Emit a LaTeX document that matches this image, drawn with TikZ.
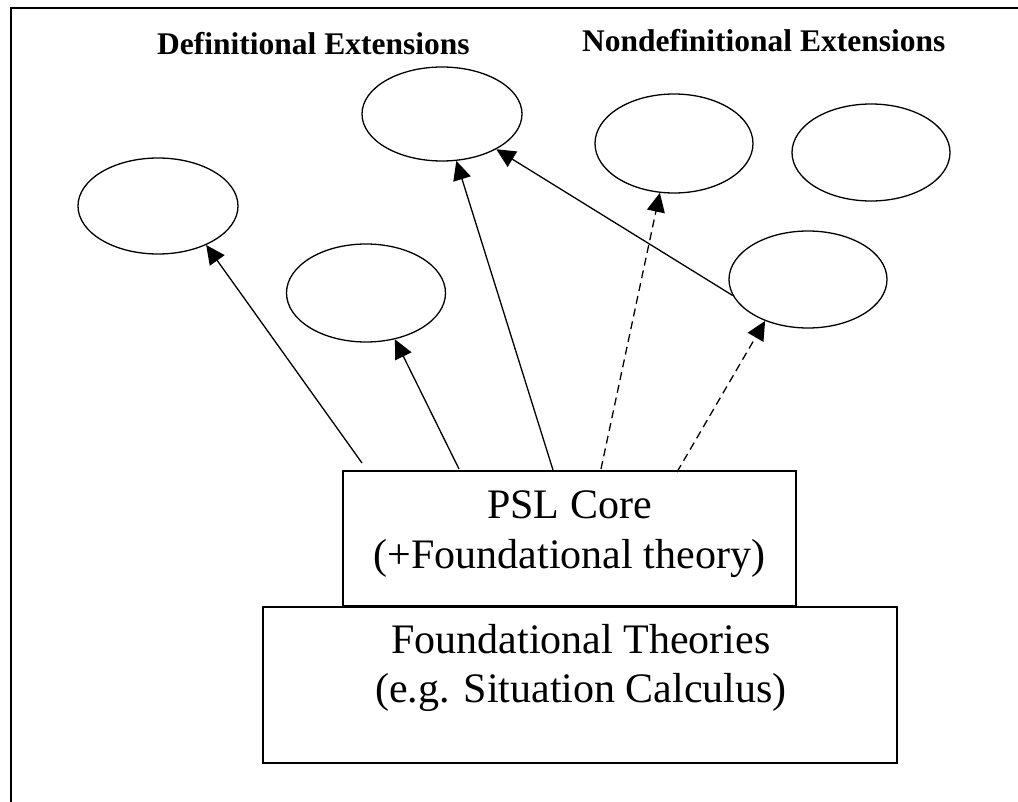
\documentclass[tikz,border=0pt]{standalone}
\usepackage{fontspec}
\setmainfont{Liberation Serif}
\usetikzlibrary{shapes.geometric,arrows.meta}
\begin{document}
\begin{tikzpicture}[x=1pt,y=-1pt,
  oval/.style={draw,ellipse,line width=1.3pt,inner sep=0pt},
  boxnode/.style={draw,rectangle,line width=1.5pt,inner sep=0pt},
  conn/.style={line width=1.3pt,-{Triangle[length=19pt,width=18pt]}},
  dconn/.style={conn,dash pattern=on 8pt off 5pt},
  bigtext/.style={font=\fontsize{42}{50}\selectfont,anchor=base,inner sep=0pt},
  title/.style={font=\fontsize{31.5}{36}\selectfont\bfseries,anchor=base west,inner sep=0pt}]
\useasboundingbox (0,0) rectangle (1018,802);
% frame
\draw[line width=2pt] (11,802) -- (11,8) -- (1018,8);
% titles
\node[title] (tdef) at (157,55) {Definitional Extensions};
\node[title] (tnon) at (582,52) {Nondefinitional Extensions};
% boxes
\node[boxnode,minimum width=634pt,minimum height=156pt] (found) at (580,685) {};
\node[boxnode,minimum width=453pt,minimum height=135pt] (psl) at (569.5,538.5) {};
\node[bigtext] (psl1) at (569.5,518) {PSL Core};
\node[bigtext] (psl2) at (569.5,568) {(+Foundational theory)};
\node[bigtext] (f1) at (581,653) {Foundational Theories};
\node[bigtext] (f2) at (581,702) {(e.g. Situation Calculus)};
% ellipses
\node[oval,minimum width=160pt,minimum height=96pt] (e1) at (158,206) {};
\node[oval,minimum width=159pt,minimum height=98pt] (e2) at (366,293) {};
\node[oval,minimum width=160pt,minimum height=94pt] (e3) at (442,114) {};
\node[oval,minimum width=158pt,minimum height=99pt] (e4) at (674,143.5) {};
\node[oval,minimum width=158pt,minimum height=97pt] (e5) at (871,152.5) {};
\node[oval,minimum width=158pt,minimum height=97pt] (e6) at (808,279.5) {};
% connector start points
\coordinate (s1) at (362,463);
\coordinate (s2) at (459,469);
\coordinate (s3) at (553,470);
\coordinate (s5) at (601,469);
\coordinate (s6) at (677,472);
% connectors
\draw[conn] (s1) -- (e1.-39);
\draw[conn] (s2) -- (e2.-58);
\draw[conn] (s3) -- (e3.-73);
\draw[conn] (e6.192) -- (e3.-33);
\draw[dconn] (s5) -- (e4.-106);
\draw[dconn] (s6) -- (e6.-136);
\end{tikzpicture}
\end{document}
